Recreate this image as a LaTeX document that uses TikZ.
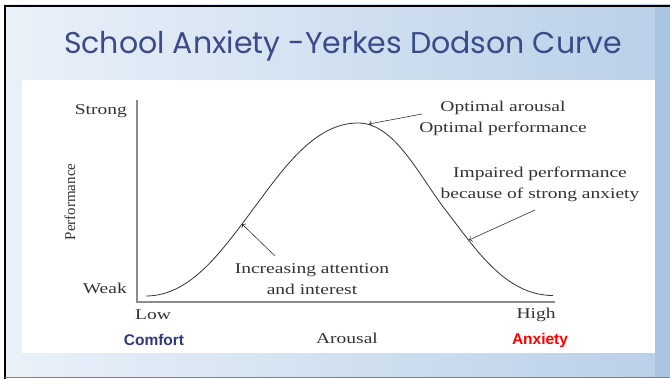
\documentclass[tikz,border=0pt]{standalone}
\usepackage{fontspec}
\setmainfont{Liberation Serif}
\newfontfamily\labelfont[FakeStretch=1.3]{Liberation Serif}
\newfontfamily\titlefont{Poppins}
\newfontfamily\tagfont{Liberation Sans}
\usepackage{tikz}
\usetikzlibrary{positioning, arrows.meta}
\definecolor{titleblue}{HTML}{3B4A88}
\definecolor{comfortblue}{HTML}{2F3A7A}
\definecolor{axisgray}{HTML}{8C8C8C}
\definecolor{textgray}{HTML}{333333}
\definecolor{bgleft}{HTML}{EAF1F9}
\definecolor{bgright}{HTML}{B9D0E8}
\definecolor{bgedge}{HTML}{A9C5E3}

\begin{document}
\begin{tikzpicture}[x=1pt, y=-1pt,
    lbl/.style={font=\labelfont\fontsize{15}{20}\selectfont, text=textgray, inner sep=1pt, align=center},
    tag/.style={font=\tagfont\bfseries\fontsize{15.5}{18}\selectfont, inner sep=1pt},
    axis/.style={draw=axisgray, line width=1.8pt},
    pointer/.style={->, line width=0.6pt, draw=textgray}
    ]
\useasboundingbox (0,0) rectangle (670,379);
% slide background
\shade[left color=bgleft, right color=bgright] (4,5) rectangle (670,377);
\fill[bgedge] (655,5) rectangle (670,377);
\fill[white] (22,80) rectangle (655,353);
\draw[line width=2pt] (5,379) -- (5,6) -- (670,6);
\draw[gray, line width=1.2pt] (5,377.5) -- (670,377.5);

\node[font=\titlefont\fontsize{30}{34}\selectfont, text=titleblue] (title) at (343,46) {School Anxiety -Yerkes Dodson Curve};

% axes
\coordinate (top) at (137,100);
\coordinate (origin) at (137,302);
\coordinate (right) at (555,302);
\draw[axis] (top) -- (origin) -- (right);

\node[lbl, anchor=east] (strong) at (128,111) {Strong};
\node[lbl, anchor=east] (weak) at (128,288) {Weak};
\node[font=\fontsize{15}{18}\selectfont, text=textgray, rotate=90] (perf) at (70,202) {Performance};
\node[lbl] (low) at (153,315) {Low};
\node[lbl] (high) at (536,315) {High};
\node[lbl] (arousal) at (347,338) {Arousal};
\node[tag, text=comfortblue] (comfort) at (154,340) {Comfort};
\node[tag, text=red] (anxiety) at (540,340) {Anxiety};

% curve
\draw[textgray, line width=0.8pt] (146,296) .. controls (190,296) and (221,252) .. (251,212)
  .. controls (281,172) and (313,123) .. (358,123)
  .. controls (395,123) and (419,176) .. (447,212)
  .. controls (475,248) and (505,295.5) .. (553,295.5);
\coordinate (peak) at (369,124);
\coordinate (rise) at (242,224);
\coordinate (fall) at (469,240);

\node[lbl] (optimal) at (503,118) {Optimal arousal\\[1pt]Optimal performance};
\node[lbl] (impaired) at (540,184) {Impaired performance\\[1pt]because of strong anxiety};
\node[lbl] (increasing) at (312,279) {Increasing attention\\[1pt]and interest};

\coordinate (optimal-tail) at (422,114);
\coordinate (impaired-tail) at (535,210);
\coordinate (increasing-tail) at (275,256);
\draw[pointer] (optimal-tail) -- (peak);
\draw[pointer] (impaired-tail) -- (fall);
\draw[pointer] (increasing-tail) -- (rise);
\end{tikzpicture}
\end{document}
